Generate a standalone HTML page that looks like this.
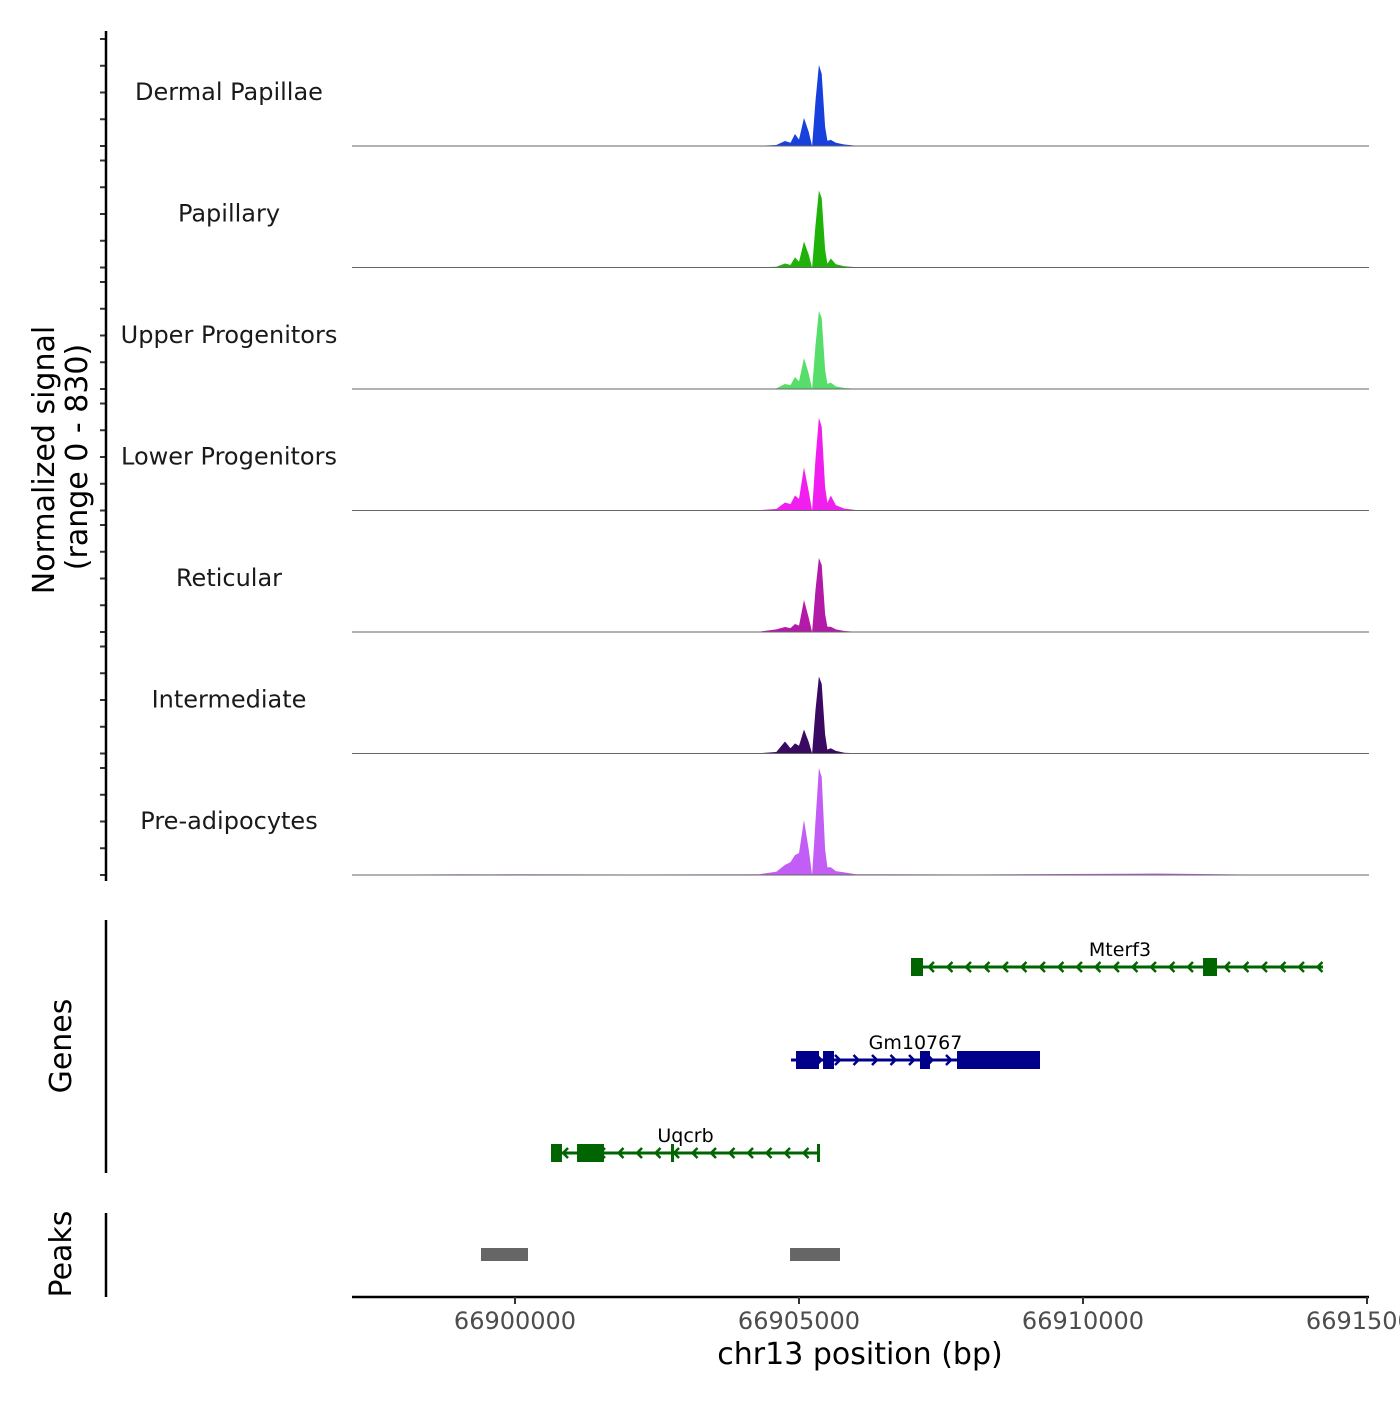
<!DOCTYPE html>
<html><head><meta charset="utf-8"><style>
body{margin:0;background:#fff}
svg{font-family:"DejaVu Sans","Liberation Sans",sans-serif}
</style></head><body>
<svg id="chart" width="1400" height="1400" xmlns="http://www.w3.org/2000/svg">
<g id="tracks"></g>
<g id="genes"></g>
<g id="peaks"></g>
<g id="axes"></g>
</svg>
<script>
const trackNames = ["Dermal Papillae","Papillary","Upper Progenitors","Lower Progenitors","Reticular","Intermediate","Pre-adipocytes"];
const trackColors = ["#1740dd","#1fb30a","#57dd6a","#f01ff0","#b31aa8","#3a0a62","#c25ef5"];
const positions = [66897200,66899000,66899600,66900200,66902000,66904300,66904600,66904754,66904850,66904930,66905000,66905088,66905170,66905230,66905290,66905350,66905400,66905460,66905500,66905560,66905650,66905800,66906000,66908000,66911300,66913000,66915000];
const dermalValues = [0,2,1,2,1,2,8,39,25,93,50,217,110,0,350,628,560,150,40,47,25,12,3,1,2,1,0];
const papillaryValues = [0,2,1,2,1,2,6,31,20,78,45,202,100,0,330,597,540,140,30,70,25,10,3,1,2,1,0];
const upperValues = [0,1,1,1,1,1,5,39,30,93,60,240,120,0,340,605,550,150,40,50,20,8,2,1,1,1,0];
const lowerValues = [0,2,2,2,2,3,12,62,50,116,90,334,150,0,400,721,650,180,60,116,40,15,4,3,3,2,0];
const reticularValues = [0,2,1,2,1,3,20,39,30,62,50,248,110,0,330,574,520,140,40,40,20,8,2,1,1,1,0];
const intermediateValues = [0,2,1,3,1,2,12,93,40,78,60,186,90,0,340,597,540,150,30,40,20,6,2,3,2,2,0];
const preadipValues = [0,6,5,6,4,6,25,78,100,155,170,427,200,0,420,830,760,200,60,60,30,20,6,4,12,3,0];
const seriesValues = [dermalValues,papillaryValues,upperValues,lowerValues,reticularValues,intermediateValues,preadipValues];
const yMax = 830;
const xTicks = [66900000,66905000,66910000,66915000];
const xTickLabels = ["66900000","66905000","66910000","66915000"];
const geneNames = ["Mterf3","Gm10767","Uqcrb"];
const geneStarts = [66907077,66904859,66900634];
const geneEnds = [66914225,66909243,66905370];
const geneStrands = [-1,1,-1];
const geneExons = [
  [[66906972,66907183],[66912113,66912359]],
  [[66904947,66905352],[66905423,66905616],[66907130,66907306],[66907782,66909243]],
  [[66900634,66900827],[66901092,66901567],[66902746,66902799],[66905317,66905370]]
];
const peakStarts = [66899401,66904842];
const peakEnds = [66900229,66905722];

const NS="http://www.w3.org/2000/svg";
const X0=352,X1=1369;
function xs(bp){return 515+(bp-66900000)*0.0568;}
function mk(tag,attrs,parent,txt){const e=document.createElementNS(NS,tag);for(const k in attrs)e.setAttribute(k,attrs[k]);if(txt!==undefined)e.textContent=txt;parent.appendChild(e);return e;}
const tracks=document.getElementById('tracks'),axes=document.getElementById('axes'),genes=document.getElementById('genes'),peaks=document.getElementById('peaks');
const trackH=107, firstTop=39, step=121.5;

seriesValues.forEach((vals,i)=>{
  const top=firstTop+i*step, base=top+trackH;
  const ys=v=>base-Math.min(v,yMax)/yMax*trackH;
  let d=`M${X0},${base}`;
  positions.forEach((p,j)=>{d+=` L${xs(p).toFixed(1)},${ys(vals[j]).toFixed(1)}`;});
  d+=` L${X1},${base} Z`;
  const a=mk('path',{d:d,fill:trackColors[i]},tracks);
  
  
  const bl=mk('line',{x1:X0,x2:X1,y1:base,y2:base,stroke:'#666','stroke-width':1},tracks);
  
  
  const t=mk('text',{x:229,y:base-46,'text-anchor':'middle','font-size':24,fill:'#1a1a1a'},tracks,trackNames[i]);
  
  
  for(let k=0;k<5;k++){
    const y=base-k*trackH/4;
    const tk=mk('line',{x1:100,x2:106,y1:y,y2:y,stroke:'#333','stroke-width':2},axes);
    
    
  }
});
mk('line',{x1:106,x2:106,y1:31,y2:881,stroke:'#000','stroke-width':2.5,},axes);
mk('text',{transform:'translate(54,460) rotate(-90)','text-anchor':'middle','font-size':30,fill:'#000',},axes,'Normalized signal');
mk('text',{transform:'translate(87,457) rotate(-90)','text-anchor':'middle','font-size':30,fill:'#000',},axes,'(range 0 - 830)');

// genes
const geneY=[967,1060,1153];
const geneCol=["#006400","#00008b","#006400"];
geneNames.forEach((g,i)=>{
  const y=geneY[i],c=geneCol[i],x1=xs(geneStarts[i]),x2=xs(geneEnds[i]);
  const ln=mk('line',{x1:x1,x2:x2,y1:y,y2:y,stroke:c,'stroke-width':3},genes);
  
  
  for(let x=x1+12;x<x2-4;x+=18.5){
    const s=-geneStrands[i]*5;
    const ar=mk('polyline',{points:`${x+s},${y-5} ${x},${y} ${x+s},${y+5}`,fill:'none',stroke:c,'stroke-width':2.5},genes);
    
    
  }
  geneExons[i].forEach(ex=>{
    const ea=xs(ex[0]),eb=xs(ex[1]);
    const r=mk('rect',{x:ea,y:y-9,width:Math.max(eb-ea,2.5),height:18,fill:c},genes);
    
    
  });
  const lb=mk('text',{x:(x1+x2)/2,y:y-11,'text-anchor':'middle','font-size':19,fill:'#000'},genes,g);
  
  
});
mk('line',{x1:106,x2:106,y1:920,y2:1173,stroke:'#000','stroke-width':2.5,},axes);
mk('text',{transform:'translate(71,1046) rotate(-90)','text-anchor':'middle','font-size':30,fill:'#000',},axes,'Genes');

// peaks
peakStarts.forEach((s,i)=>{
  const r=mk('rect',{x:xs(s),y:1248,width:xs(peakEnds[i])-xs(s),height:13,fill:'#666'},peaks);
  
  
});
mk('line',{x1:106,x2:106,y1:1213,y2:1297,stroke:'#000','stroke-width':2.5,},axes);
mk('text',{transform:'translate(71,1254) rotate(-90)','text-anchor':'middle','font-size':30,fill:'#000',},axes,'Peaks');

// x axis
mk('line',{x1:X0,x2:X1,y1:1297,y2:1297,stroke:'#000','stroke-width':2.5,},axes);
xTicks.forEach((t,i)=>{
  const x=xs(t);
  const tk=mk('line',{x1:x,x2:x,y1:1297,y2:1304,stroke:'#333','stroke-width':2},axes);
  
  
  const lb=mk('text',{x:x,y:1329,'text-anchor':'middle','font-size':24,fill:'#4d4d4d'},axes,xTickLabels[i]);
  
  
});
mk('text',{x:860,y:1364,'text-anchor':'middle','font-size':30,fill:'#000',},axes,'chr13 position (bp)');
</script>
</body></html>
